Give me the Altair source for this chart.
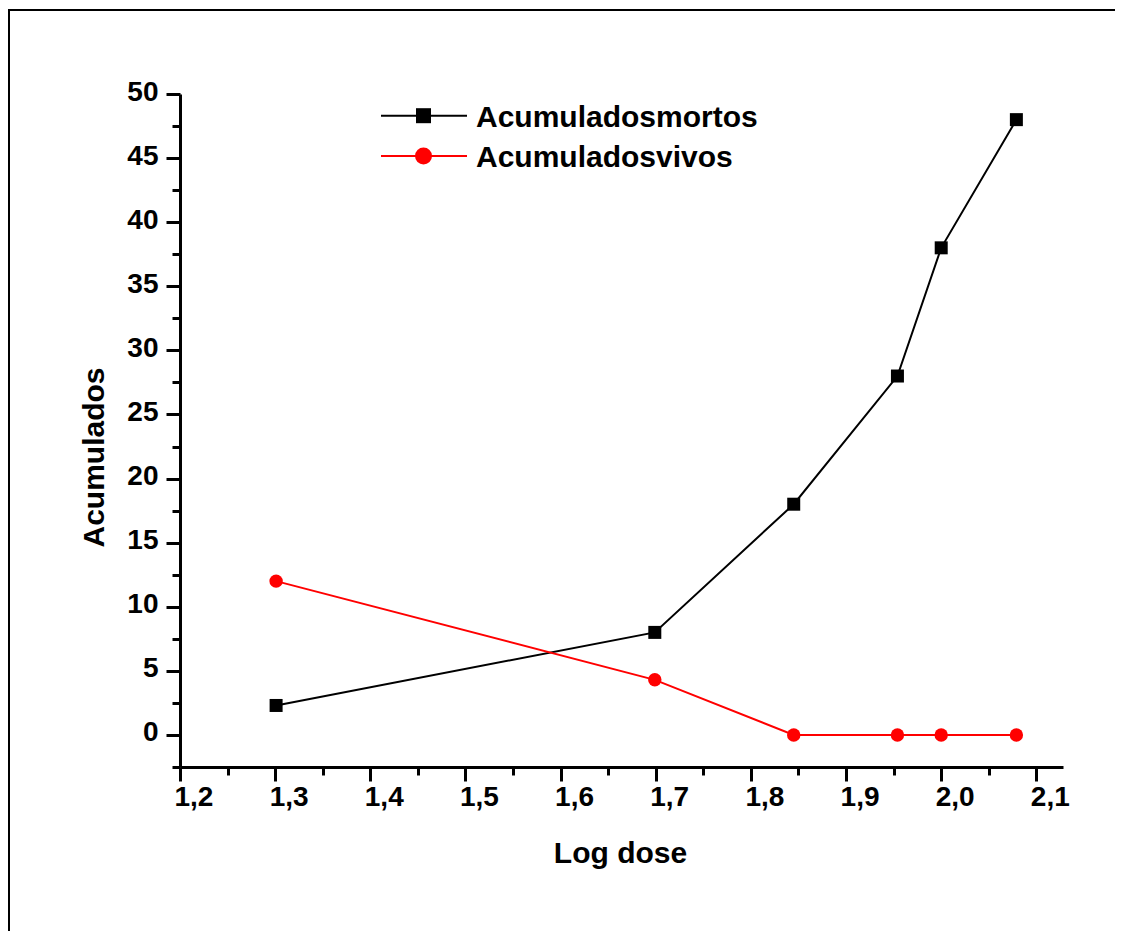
import altair as alt
import pandas as pd

# ---- data ----
log_dose = [1.301, 1.699, 1.845, 1.954, 2.000, 2.079]
mortos = [2.3, 8.0, 18.0, 28.0, 38.0, 48.0]
vivos = [12.0, 4.3, 0.0, 0.0, 0.0, 0.0]
series_names = ["Acumuladosmortos", "Acumuladosvivos"]
series_colors = ["#000000", "#FF0000"]
series_shapes = ["square", "circle"]
series_sizes = [169, 180]
legend_sizes = [225, 290]

x_ticks = [1.2, 1.25, 1.3, 1.35, 1.4, 1.45, 1.5, 1.55, 1.6, 1.65, 1.7, 1.75,
           1.8, 1.85, 1.9, 1.95, 2.0, 2.05, 2.1]
y_ticks = [-2.5, 0, 2.5, 5, 7.5, 10, 12.5, 15, 17.5, 20, 22.5, 25, 27.5, 30,
           32.5, 35, 37.5, 40, 42.5, 45, 47.5, 50]

FONT = "Liberation Sans"

df = pd.DataFrame({
    "x": log_dose + log_dose,
    "y": mortos + vivos,
    "serie": [series_names[0]] * len(log_dose) + [series_names[1]] * len(log_dose),
    "order": list(range(len(log_dose))) * 2,
})

color_scale = alt.Scale(domain=series_names, range=series_colors)
shape_scale = alt.Scale(domain=series_names, range=series_shapes)
size_scale = alt.Scale(domain=series_names, range=series_sizes)

x_axis = alt.Axis(
    title="Log dose",
    values=x_ticks,
    labelExpr="abs(datum.value*10 - round(datum.value*10)) < 0.001 ? replace(format(datum.value, '.1f'), '.', ',') : ''",
    tickSize={"condition": {"test": "abs(datum.value*10 - round(datum.value*10)) < 0.001", "value": 14}, "value": 8},
    labelPadding=2,
    labelAlign="left",
    labelOffset=-6,
    labelOverlap=False,
    labelFlush=False,
    labelBound=False,
    titleX=440,
    titleY=95,
    titleBaseline="alphabetic",
    titleAlign="center",
)
y_axis = alt.Axis(
    title="Acumulados",
    values=y_ticks,
    labelExpr="datum.value % 5 === 0 ? format(datum.value, 'd') : ''",
    tickSize={"condition": {"test": "datum.value % 5 === 0", "value": 14}, "value": 8},
    labelPadding=8,
    labelOffset=-2,
    labelOverlap=False,
    labelFlush=False,
    labelBound=False,
    titleX=-77,
    titleY=363,
    titleBaseline="alphabetic",
    titleAlign="center",
    titleAngle=270,
)

X = alt.X("x:Q", scale=alt.Scale(domain=[1.2, 2.128], nice=False, zero=False), axis=x_axis)
Y = alt.Y("y:Q", scale=alt.Scale(domain=[-2.5, 50], nice=False, zero=False), axis=y_axis)

base = alt.Chart(df)
lines = base.mark_line(strokeWidth=2).encode(
    x=X, y=Y,
    color=alt.Color("serie:N", scale=color_scale, legend=None),
    order="order:Q",
)
points = base.mark_point(filled=True, opacity=1, strokeWidth=0).encode(
    x=X, y=Y,
    color=alt.Color("serie:N", scale=color_scale, legend=None),
    shape=alt.Shape("serie:N", scale=shape_scale, legend=None),
    size=alt.Size("serie:N", scale=size_scale, legend=None),
)

layers = [lines, points]

# ---- hand-made legend (line + symbol + label) ----
legend_line_y = [21.7, 62]
legend_text_y = [32.7, 72.5]
for i, name in enumerate(series_names):
    d = pd.DataFrame({"serie": [name]})
    c = alt.Chart(d)
    layers.append(c.mark_rule(strokeWidth=2, color=series_colors[i]).encode(
        x=alt.value(201), x2=alt.value(287), y=alt.value(legend_line_y[i])))
    layers.append(c.mark_point(filled=True, opacity=1, strokeWidth=0,
                               shape=series_shapes[i], color=series_colors[i],
                               size=legend_sizes[i]).encode(
        x=alt.value(243.5), y=alt.value(legend_line_y[i])))
    layers.append(c.mark_text(align="left", baseline="alphabetic", font=FONT,
                              fontSize=30, fontWeight="bold", color="black").encode(
        x=alt.value(296), y=alt.value(legend_text_y[i]), text="serie:N"))

# ---- outer frame (top and left lines) ----
frame = pd.DataFrame({"k": [0]})
layers.append(alt.Chart(frame).mark_rule(strokeWidth=2, color="black").encode(
    x=alt.value(-172), x2=alt.value(935), y=alt.value(-84)))
layers.append(alt.Chart(frame).mark_rule(strokeWidth=2, color="black").encode(
    x=alt.value(-171), y=alt.value(-85), y2=alt.value(837)))

chart = alt.layer(*layers).properties(
    width=883,
    height=673,
    autosize="none",
    padding={"left": 172, "top": 86, "right": 52, "bottom": 164},
).configure_view(stroke=None).configure_axis(
    grid=False,
    domainColor="black",
    domainWidth=3,
    tickColor="black",
    tickWidth=3,
    labelColor="black",
    labelFont=FONT,
    labelFontSize=28,
    labelFontWeight="bold",
    titleColor="black",
    titleFont=FONT,
    titleFontSize=30,
    titleFontWeight="bold",
)

chart.save("out.html", embed_options={"renderer": "svg", "actions": False})
